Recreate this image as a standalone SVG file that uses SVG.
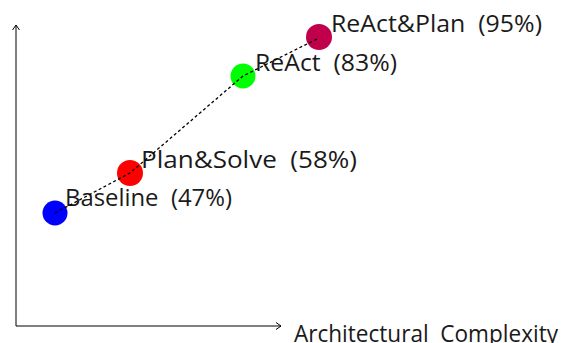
<svg xmlns="http://www.w3.org/2000/svg" width="570" height="343" viewBox="0 0 570 343">
<defs>
<style>
.axis{stroke:#000;stroke-width:1;fill:none}
.lbl{font-family:"Open Sans","Liberation Sans",sans-serif;font-size:23.5px;fill:#1a1a1a;white-space:pre}
.trend{stroke:#000;stroke-width:1.3;fill:none;stroke-dasharray:3 2.5}
</style>
<marker id="chev" markerWidth="10" markerHeight="10" refX="7" refY="4" orient="auto" markerUnits="userSpaceOnUse">
<path d="M2,0.5 L7,4 L2,7.5" fill="none" stroke="#000" stroke-width="1"/>
</marker>
</defs>
<rect width="570" height="343" fill="#fff"/>
<g id="axes">
<line class="axis" x1="16" y1="326" x2="16" y2="25" marker-end="url(#chev)"/>
<line class="axis" x1="16" y1="326" x2="281" y2="326" marker-end="url(#chev)"/>
<text class="lbl" x="294" y="342" textLength="264" lengthAdjust="spacingAndGlyphs" xml:space="preserve">Architectural  Complexity</text>
</g>
<g id="node-baseline"><circle cx="55" cy="213" r="12.5" fill="#0000ff"/><text class="lbl" x="65" y="206" textLength="167" lengthAdjust="spacingAndGlyphs" xml:space="preserve">Baseline  (47%)</text></g>
<g id="node-plansolve"><circle cx="130" cy="173" r="13" fill="#ff0000"/><text class="lbl" x="141" y="168" textLength="216" lengthAdjust="spacingAndGlyphs" xml:space="preserve">Plan&amp;Solve  (58%)</text></g>
<g id="node-react"><circle cx="243" cy="76" r="12.5" fill="#00ff00"/><text class="lbl" x="255" y="71" textLength="142" lengthAdjust="spacingAndGlyphs" xml:space="preserve">ReAct  (83%)</text></g>
<g id="node-reactplan"><circle cx="319" cy="37" r="13" fill="#c0004a"/><text class="lbl" x="331" y="32" textLength="211" lengthAdjust="spacingAndGlyphs" xml:space="preserve">ReAct&amp;Plan  (95%)</text></g>
<g id="connectors">
<polyline class="trend" points="55,213 130,173 243,76 319,38"/>
</g>
</svg>
